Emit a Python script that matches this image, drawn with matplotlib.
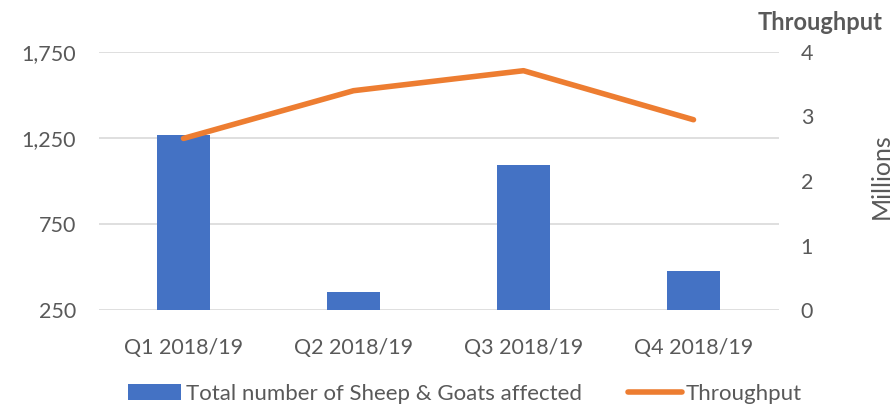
import numpy as np
import matplotlib.pyplot as plt
from matplotlib.ticker import FuncFormatter

quarters = ["Q1 2018/19", "Q2 2018/19", "Q3 2018/19", "Q4 2018/19"]
sheep_goats = [1267, 356, 1093, 477]
throughput_m = [2.66, 3.40, 3.71, 2.95]

grey = "#595959"
blue = "#4472C4"
orange = "#ED7D31"

plt.rcParams['font.family'] = ['Lato', 'DejaVu Sans']

fig = plt.figure(figsize=(8.96, 4.07), dpi=100)
ax = fig.add_axes([98.5 / 896, 1 - 310 / 407, 680 / 896, 258 / 407])
ax2 = ax.twinx()

x = np.arange(len(quarters))
bars = ax.bar(x, np.array(sheep_goats) - 250, bottom=250, width=0.31,
              color=blue, zorder=2, label="Total number of Sheep & Goats affected")
line, = ax2.plot(x, throughput_m, color=orange, lw=4, solid_capstyle='round',
                 label="Throughput", zorder=3)

ax.set_xlim(-0.5, 3.5)
ax.set_ylim(250, 1750)
ax.set_yticks([250, 750, 1250, 1750])
ax.yaxis.set_major_formatter(FuncFormatter(lambda v, p: f"{int(v):,}"))
ax.grid(True, axis='y', color="#D9D9D9", lw=1.2, zorder=0)
ax.set_axisbelow(True)

ax2.set_ylim(0, 4)
ax2.set_yticks([0, 1, 2, 3, 4])

ax.set_xticks(x)
ax.set_xticklabels(quarters)

for a in (ax, ax2):
    for s in a.spines.values():
        s.set_visible(False)
    a.tick_params(length=0, colors=grey, labelsize=15.5)
ax.tick_params(axis='y', pad=16)
ax.tick_params(axis='x', pad=20)
ax2.tick_params(axis='y', pad=16)

fig.text(820 / 896, 1 - 22 / 407, "Throughput", ha='center', va='center',
         color=grey, fontsize=17, fontweight='bold')
fig.text(881 / 896, 1 - 176 / 407, "Millions", ha='center', va='center',
         color=grey, fontsize=18, rotation=90)

fig.legend([bars, line], [bars.get_label(), line.get_label()],
           loc='center', bbox_to_anchor=(465 / 896, 1 - 394 / 407), ncol=2,
           frameon=False, fontsize=16, labelcolor=grey, handlelength=2.4,
           handletextpad=0.2, columnspacing=2.1)

fig.savefig("out.png", dpi=100)
